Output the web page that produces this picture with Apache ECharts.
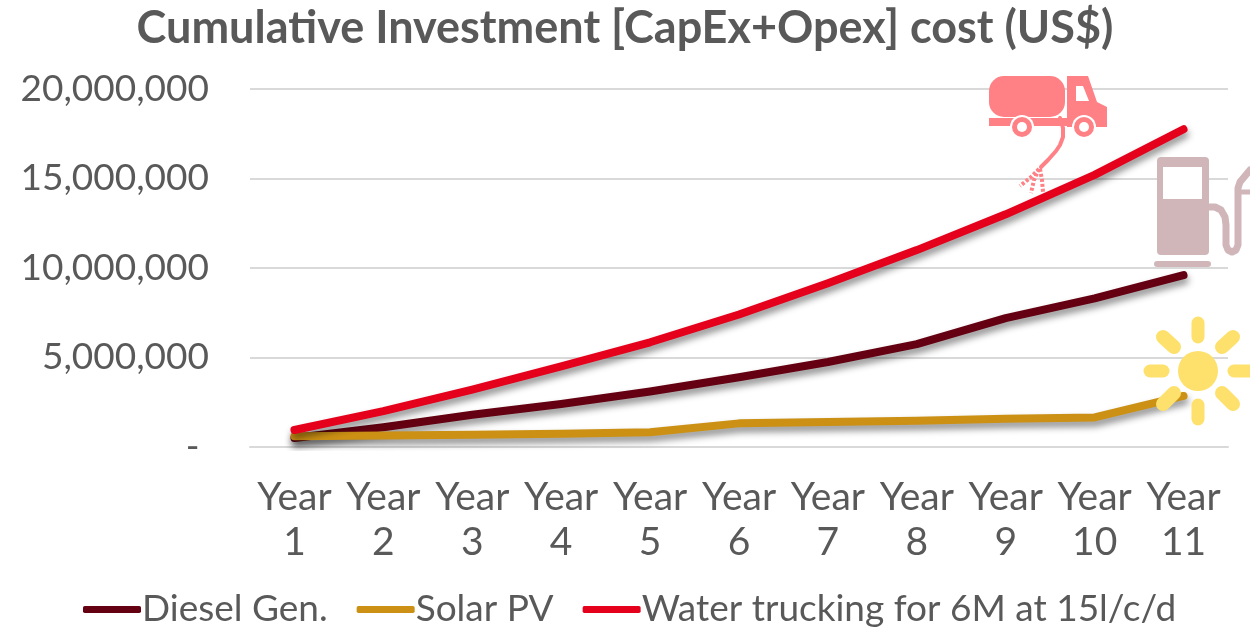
<!DOCTYPE html>
<html><head><meta charset="utf-8">
<style>html,body{margin:0;padding:0;background:#fff}#c{width:1250px;height:630px}</style>
<script src="https://cdn.jsdelivr.net/npm/echarts@6/dist/echarts.min.js"></script>
</head><body><div id="c"></div>
<script>
const titleText = 'Cumulative Investment [CapEx+Opex] cost (US$)';
const categories = ['Year\n1','Year\n2','Year\n3','Year\n4','Year\n5','Year\n6','Year\n7','Year\n8','Year\n9','Year\n10','Year\n11'];
const dieselName = 'Diesel Gen.';
const solarName = 'Solar PV';
const waterName = 'Water trucking for 6M at 15l/c/d';
const diesel = [500000,1100000,1800000,2400000,3100000,3900000,4750000,5750000,7200000,8300000,9600000];
const solar = [600000,640000,680000,740000,820000,1320000,1400000,1470000,1580000,1650000,2850000];
const water = [950000,2000000,3200000,4500000,5850000,7400000,9150000,11000000,13000000,15200000,17750000];
const FONT = 'Lato, Carlito, "Open Sans", sans-serif';
const TEXT = '#595959';
const mk = (name, data, color) => ({
  name, data, type:'line', symbol:'none', smooth:false, z:3,
  lineStyle:{color, width:8, cap:'round', join:'round', shadowColor:'rgba(0,0,0,0.45)', shadowBlur:7, shadowOffsetX:1, shadowOffsetY:5},
  itemStyle:{color}
});
const TRUCK='#ff8085', PUMP='#d1b6b9', SUN='#fde16c';
const r=(x,y,w,h,fill,rad)=>({type:'rect',shape:{x,y,width:w,height:h,r:rad||0},style:{fill},z:10,silent:true});
const c=(cx,cy,rr,fill)=>({type:'circle',shape:{cx,cy,r:rr},style:{fill},z:10,silent:true});
const pl=(points,stroke,w,extra)=>({type:'polyline',shape:{points},style:Object.assign({stroke,fill:'none',lineWidth:w,lineCap:'round',lineJoin:'round'},extra||{}),z:10,silent:true});
const pg=(points,fill)=>({type:'polygon',shape:{points},style:{fill},z:10,silent:true});
const dash={lineDash:[3,2],lineCap:'butt'};
const icons=[
 // truck
 r(989,76,76,41,TRUCK,15),
 pg([[1067,76],[1088,76],[1097,102],[1107,107],[1107,127],[1067,127]],TRUCK),
 pg([[1076,86],[1083,86],[1089,101],[1076,101]],'#fff'),
 r(989,118,118,8,TRUCK),
 c(1022,127,12,'#fff'),c(1022,127,10,TRUCK),c(1022,127,5,'#fff'),
 c(1084,127,12,'#fff'),c(1084,127,10,TRUCK),c(1084,127,5,'#fff'),
 pl([[1060,118],[1063,128],[1063,137],[1060,145],[1056,151],[1048,160],[1041,167]],TRUCK,4),
 pl([[1039,169],[1030,178],[1020,186]],TRUCK,4,dash),
 pl([[1039,169],[1034,180],[1031,193]],TRUCK,4,dash),
 pl([[1040,169],[1042,180],[1043,192]],TRUCK,4,dash),
 // pump
 r(1157,157,52,98,PUMP,4),
 r(1163,167,39,32,'#fff'),
 r(1154,261,57,6,PUMP,3),
 pl([[1209,207],[1215,207],[1221,210],[1225,217],[1226,225],[1226,245],[1228,250],[1232,252],[1236,250],[1238,245],[1238,188],[1240,182],[1250,170]],PUMP,7),
 pl([[1240,192],[1250,192]],PUMP,5),
 // sun
 c(1198,371,20,SUN),
 pl([[1198,323],[1198,337]],SUN,13),
 pl([[1198,405],[1198,419]],SUN,13),
 pl([[1150,371],[1163,371]],SUN,13),
 pl([[1234,371],[1250,371]],SUN,13),
 pl([[1163,337],[1174,347]],SUN,14),
 pl([[1233,337],[1222,347]],SUN,14),
 pl([[1163,404],[1174,393]],SUN,14),
 pl([[1233,404],[1222,393]],SUN,14)
];
const chart = echarts.init(document.getElementById('c'), null, {renderer:'canvas'});
chart.setOption({
  animation:false,
  backgroundColor:'#fff',
  textStyle:{fontFamily:FONT},
  title:{text:titleText,left:'center',top:1,textStyle:{fontFamily:FONT,fontSize:45,fontWeight:'bold',color:TEXT}},
  legend:{
    left:78,top:586,icon:'roundRect',itemWidth:58,itemHeight:7,itemGap:29,
    data:[dieselName,solarName,waterName],
    textStyle:{fontFamily:FONT,fontSize:37,color:TEXT,padding:[0,0,0,-4]}
  },
  grid:{left:250,right:22,top:89,height:358,containLabel:false},
  xAxis:{type:'category',data:categories,
    axisLine:{show:true,lineStyle:{color:'#d9d9d9',width:2}},axisTick:{show:false},
    axisLabel:{color:TEXT,fontFamily:FONT,fontSize:39,lineHeight:45,margin:28,interval:0}},
  yAxis:{type:'value',min:0,max:20000000,interval:5000000,
    axisLine:{show:false},axisTick:{show:false},
    splitLine:{lineStyle:{color:'#d9d9d9',width:2}},
    axisLabel:{color:TEXT,fontFamily:FONT,fontSize:37,margin:41,
      formatter:v=>v===0?'- ':v.toLocaleString('en-US')}},
  series:[mk(dieselName,diesel,'#640011'),mk(solarName,solar,'#cb9014'),mk(waterName,water,'#e5001c')],
  graphic:{elements:icons}
});
</script></body></html>
